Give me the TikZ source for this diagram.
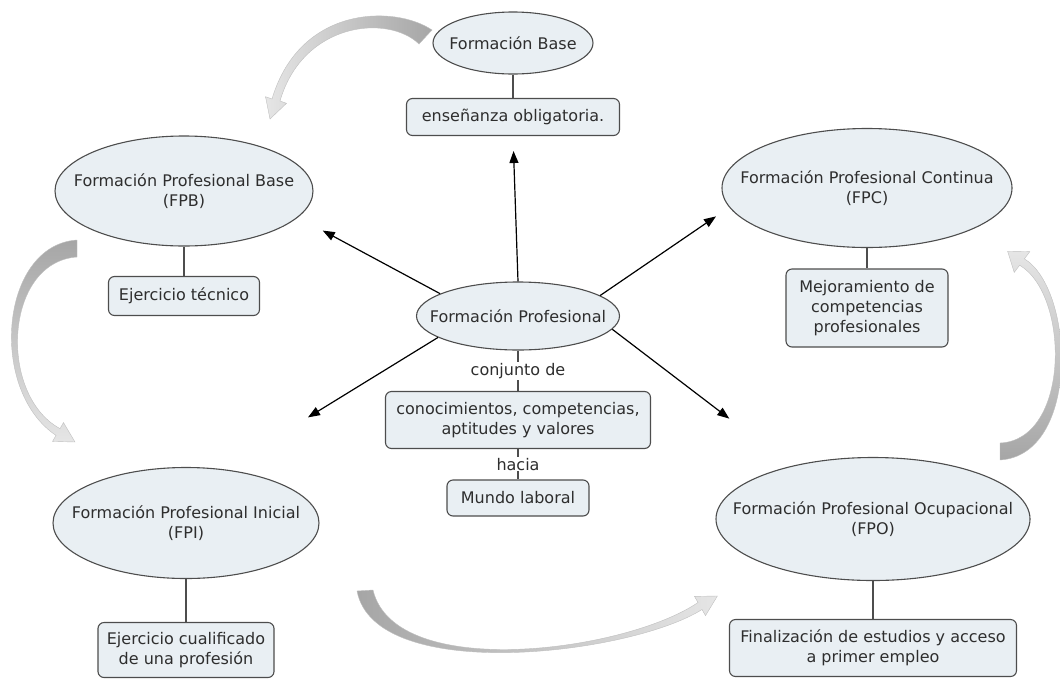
\documentclass[tikz,border=0pt]{standalone}
\usepackage{fontspec}
\setmainfont{DejaVu Sans}
\usetikzlibrary{arrows.meta}
\usetikzlibrary{shapes.geometric}
\definecolor{nodefill}{HTML}{E9EFF3}
\definecolor{linegray}{HTML}{4D4D4D}
\definecolor{textgray}{HTML}{2E2E2E}
\begin{document}
\begin{tikzpicture}[x=1pt,y=-1pt,>={Triangle[length=12pt,width=9pt]},
		font=\fontsize{16}{20}\selectfont,text=textgray]
		\tikzstyle{oval}=[ellipse,draw=linegray,fill=nodefill,line width=1.1pt];
		\tikzstyle{box}=[rectangle,rounded corners=6pt,draw=linegray,fill=nodefill,
			line width=1.1pt,align=center];
		\tikzstyle{link}=[draw=linegray,line width=1.1pt];
		\tikzstyle{ray}=[->,draw=black,line width=1.2pt];
		\tikzstyle{swirl}=[draw=gray!50,line width=0.4pt];
		\useasboundingbox(0,0)rectangle(1060,678);

		\node[oval,minimum width=203pt,minimum height=68pt,label={center:Formación Profesional}](00) at (518,316){};
		\node[box,node distance=104pt,below of=00,minimum width=265pt,minimum height=57pt](01){conocimientos, competencias,\\aptitudes y valores};
		\node[box,node distance=78pt,below of=01,minimum width=142pt,minimum height=36pt](02){Mundo laboral};
		\draw[link](00)--node[fill=white,inner sep=1pt]{conjunto de}(01);
		\draw[link](01)--node[fill=white,inner sep=1pt]{hacia}(02);

		\node[oval,minimum width=160pt,minimum height=62pt,label={center:Formación Base}](10) at (513,43){};
		\node[box,node distance=74pt,below of=10,minimum width=213pt,minimum height=37pt](11){enseñanza obligatoria.};
		\draw[link](10)--(11);

		\node[oval,minimum width=258pt,minimum height=110pt,label={[align=center]center:Formación Profesional Base\\(FPB)}](20) at (184,191){};
		\node[box,node distance=105pt,below of=20,minimum width=151pt,minimum height=39pt](21){Ejercicio técnico};
		\draw[link](20)--(21);

		\node[oval,minimum width=290pt,minimum height=119pt,label={[align=center]center:Formación Profesional Continua\\(FPC)}](30) at (867,188){};
		\node[box,node distance=120pt,below of=30,minimum width=162pt,minimum height=78pt](31){Mejoramiento de\\competencias\\profesionales};
		\draw[link](30)--(31);

		\node[oval,minimum width=266pt,minimum height=111pt,label={[align=center]center:Formación Profesional Inicial\\(FPI)}](40) at (186,523){};
		\node[box,node distance=127pt,below of=40,minimum width=176pt,minimum height=55pt](41){Ejercicio cualificado\\de una profesión};
		\draw[link](40)--(41);

		\node[oval,minimum width=314pt,minimum height=123pt,label={[align=center]center:Formación Profesional Ocupacional\\(FPO)}](50) at (873,519){};
		\node[box,node distance=129pt,below of=50,minimum width=287pt,minimum height=57pt](51){Finalización de estudios y acceso\\a primer empleo};
		\draw[link](50)--(51);

		\draw[ray,shorten >=15pt](00.north)--(11.south);
		\draw[ray,shorten >=28pt](00.164)--(20.-13);
		\draw[ray,shorten >=16pt](00.14)--(30.188);
		\draw[ray,shorten >=99pt](00.195)--(40.55);
		\draw[ray,shorten >=78pt](00.-8)--(50.147);

		\shade[swirl,left color=gray!20,right color=gray!70](432,30)..controls(395,5)and(300,5)..(272,99)
			--(265.5,96.7)--(270,119)--(286.5,103.3)--(280,101)..controls(303,22)and(388,14)..(419,44)--cycle;
		\shade[swirl,top color=gray!70,bottom color=gray!20](77,240)..controls(0,245)and(-12,390)..(56,435.4)
			--(52.5,441.4)--(75,442)--(63.5,422.6)--(60,428.6)..controls(-2,395)and(4,262)..(77,257)--cycle;
		\shade[swirl,left color=gray!70,right color=gray!20](357,591)..controls(375,685)and(630,655)..(702,609.5)
			--(705.5,615.6)--(717.4,596)--(694.5,596.4)--(698,602.5)..controls(625,652)and(395,682)..(373,590)--cycle;
		\shade[swirl,bottom color=gray!70,top color=gray!20](1000,460)..controls(1080,455)and(1075,290)..(1024.4,258.8)
			--(1029.8,251.6)--(1007.6,251.2)--(1014.2,272.4)--(1019.6,265.2)..controls(1070,295)and(1070,440)..(1000,443)--cycle;
	\end{tikzpicture}
\end{document}
